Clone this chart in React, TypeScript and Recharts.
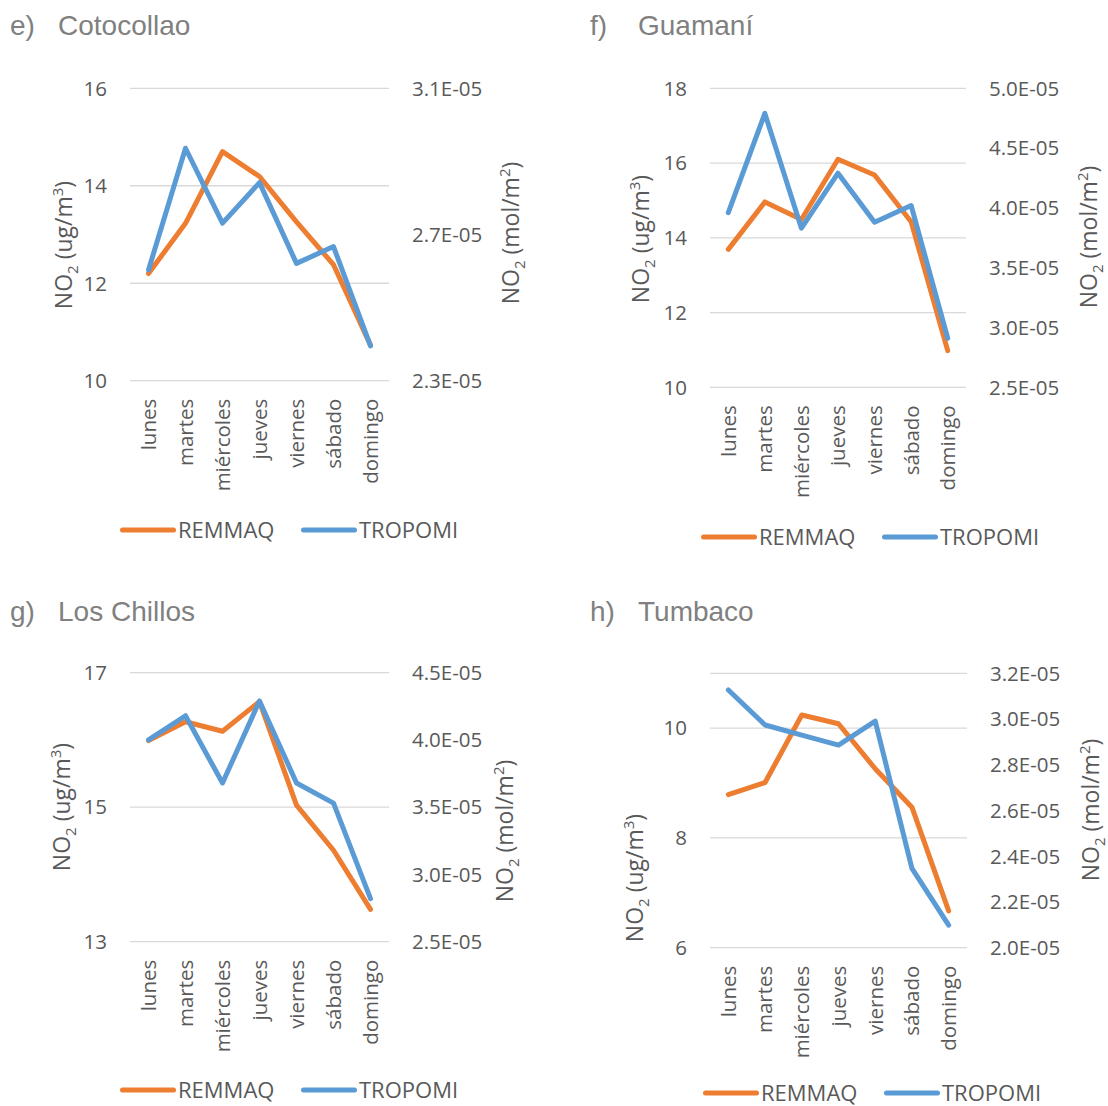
import { LineChart, Line, XAxis, YAxis, CartesianGrid } from "recharts"

const days = ["lunes", "martes", "miércoles", "jueves", "viernes", "sábado", "domingo"]

const cotocollaoRemmaq = [12.2, 13.23, 14.7, 14.19, 13.26, 12.38, 10.73]
const cotocollaoTropomi = [2.603e-5, 2.936e-5, 2.731e-5, 2.842e-5, 2.621e-5, 2.667e-5, 2.395e-5]
const guamaniRemmaq = [13.69, 14.96, 14.49, 16.1, 15.68, 14.43, 10.98]
const guamaniTropomi = [3.96e-5, 4.79e-5, 3.83e-5, 4.29e-5, 3.88e-5, 4.02e-5, 2.91e-5]
const chillosRemmaq = [15.99, 16.27, 16.13, 16.57, 15.03, 14.36, 13.48]
const chillosTropomi = [4.0e-5, 4.18e-5, 3.68e-5, 4.29e-5, 3.68e-5, 3.53e-5, 2.82e-5]
const tumbacoRemmaq = [8.79, 9.01, 10.24, 10.08, 9.26, 8.56, 6.67]
const tumbacoTropomi = [3.127e-5, 2.974e-5, 2.93e-5, 2.886e-5, 2.991e-5, 2.347e-5, 2.099e-5]

const cotocollaoLeftTicks = [10, 12, 14, 16]
const cotocollaoRightTicks = [2.3e-5, 2.7e-5, 3.1e-5]
const guamaniLeftTicks = [10, 12, 14, 16, 18]
const guamaniRightTicks = [2.5e-5, 3.0e-5, 3.5e-5, 4.0e-5, 4.5e-5, 5.0e-5]
const chillosLeftTicks = [13, 15, 17]
const chillosRightTicks = [2.5e-5, 3.0e-5, 3.5e-5, 4.0e-5, 4.5e-5]
const tumbacoLeftTicks = [6, 8, 10]
const tumbacoRightTicks = [2.0e-5, 2.2e-5, 2.4e-5, 2.6e-5, 2.8e-5, 3.0e-5, 3.2e-5]

const ORANGE = "#ED7D31"
const BLUE = "#5B9BD5"
const TEXT = "#595959"
const GRID = "#D9D9D9"
const FONT = "'Open Sans', sans-serif"
const TITLE_FONT = "'Liberation Sans', Arial, sans-serif"

const fmtE = (v: number) => (v * 1e5).toFixed(1) + "E-05"

function DayTick({ x, y, payload }: any) {
  const ty = y + 16
  return (
    <text
      x={x}
      y={ty}
      transform={`rotate(-90 ${x} ${ty})`}
      textAnchor="end"
      dy="0.36em"
      fill={TEXT}
      fontSize={20.5}
      fontFamily={FONT}
    >
      {payload.value}
    </text>
  )
}

function Panel({ box, plot, remmaq, tropomi, leftDomain, leftTicks, rightDomain, rightTicks }: any) {
  const data = days.map((d, i) => ({ day: d, remmaq: remmaq[i], tropomi: tropomi[i] }))
  const pad = (plot.r - plot.l) / 14
  const tick = { fill: TEXT, fontSize: 20.5, fontFamily: FONT }
  return (
    <div style={{ position: "absolute", left: box.x, top: box.y }}>
      <LineChart
        width={box.w}
        height={box.h}
        data={data}
        margin={{ top: plot.t - box.y, right: 0, bottom: 0, left: 0 }}
      >
        <CartesianGrid yAxisId="left" vertical={false} stroke={GRID} strokeWidth={1.3} />
        <XAxis
          dataKey="day"
          height={box.y + box.h - plot.b}
          tick={<DayTick />}
          tickLine={false}
          axisLine={false}
          tickSize={0}
          interval={0}
          padding={{ left: pad, right: pad }}
        />
        <YAxis
          yAxisId="left"
          width={plot.l - box.x}
          type="number"
          domain={leftDomain}
          ticks={leftTicks}
          tickLine={false}
          axisLine={false}
          tickSize={0}
          tickMargin={23}
          tick={tick}
        />
        <YAxis
          yAxisId="right"
          orientation="right"
          width={box.x + box.w - plot.r}
          type="number"
          domain={rightDomain}
          ticks={rightTicks}
          tickFormatter={fmtE}
          tickLine={false}
          axisLine={false}
          tickSize={0}
          tickMargin={23}
          tick={{ ...tick, textAnchor: "start" }}
        />
        <Line
          yAxisId="left"
          dataKey="remmaq"
          stroke={ORANGE}
          strokeWidth={5}
          strokeLinecap="round"
          strokeLinejoin="round"
          dot={false}
          activeDot={false}
          isAnimationActive={false}
        />
        <Line
          yAxisId="right"
          dataKey="tropomi"
          stroke={BLUE}
          strokeWidth={5}
          strokeLinecap="round"
          strokeLinejoin="round"
          dot={false}
          activeDot={false}
          isAnimationActive={false}
        />
      </LineChart>
    </div>
  )
}

function AxisTitle({ x, y, unit, sup }: { x: number; y: number; unit: string; sup: string }) {
  return (
    <text
      x={x}
      y={y}
      transform={`rotate(-90 ${x} ${y})`}
      textAnchor="middle"
      dy="0.36em"
      fill={TEXT}
      fontSize={23}
      fontFamily={FONT}
    >
      NO<tspan fontSize={15} dy={6}>2</tspan>
      <tspan dy={-6}> ({unit}</tspan>
      <tspan fontSize={15} dy={-9}>{sup}</tspan>
      <tspan dy={9}>)</tspan>
    </text>
  )
}

function Legend({ x, y }: { x: number; y: number }) {
  return (
    <g fontFamily={FONT} fontSize={22} fill={TEXT}>
      <line x1={x + 2.5} y1={y} x2={x + 53.5} y2={y} stroke={ORANGE} strokeWidth={5} strokeLinecap="round" />
      <text x={x + 58} y={y + 8}>REMMAQ</text>
      <line x1={x + 183.5} y1={y} x2={x + 234.5} y2={y} stroke={BLUE} strokeWidth={5} strokeLinecap="round" />
      <text x={x + 239} y={y + 8}>TROPOMI</text>
    </g>
  )
}

function Title({ x, y, tag, name }: { x: number; y: number; tag: string; name: string }) {
  return (
    <g fontFamily={TITLE_FONT} fontSize={28} fill="#808080">
      <text x={x} y={y}>{tag}</text>
      <text x={x + 48} y={y}>{name}</text>
    </g>
  )
}

export default function App() {
  return (
    <div style={{ position: "absolute", left: 0, top: 0, width: 1108, height: 1106, background: "#fff", overflow: "hidden" }}>
      <Panel
        box={{ x: 0, y: 0, w: 554, h: 560 }}
        plot={{ l: 130, r: 389, t: 88.3, b: 380.7 }}
        remmaq={cotocollaoRemmaq}
        tropomi={cotocollaoTropomi}
        leftDomain={[10, 16]}
        leftTicks={cotocollaoLeftTicks}
        rightDomain={[2.3e-5, 3.1e-5]}
        rightTicks={cotocollaoRightTicks}
      />
      <Panel
        box={{ x: 554, y: 0, w: 554, h: 560 }}
        plot={{ l: 710, r: 966, t: 88.3, b: 387.3 }}
        remmaq={guamaniRemmaq}
        tropomi={guamaniTropomi}
        leftDomain={[10, 18]}
        leftTicks={guamaniLeftTicks}
        rightDomain={[2.5e-5, 5.0e-5]}
        rightTicks={guamaniRightTicks}
      />
      <Panel
        box={{ x: 0, y: 560, w: 554, h: 546 }}
        plot={{ l: 130, r: 389, t: 672.7, b: 941.7 }}
        remmaq={chillosRemmaq}
        tropomi={chillosTropomi}
        leftDomain={[13, 17]}
        leftTicks={chillosLeftTicks}
        rightDomain={[2.5e-5, 4.5e-5]}
        rightTicks={chillosRightTicks}
      />
      <Panel
        box={{ x: 554, y: 560, w: 554, h: 546 }}
        plot={{ l: 710, r: 967, t: 673.3, b: 947.7 }}
        remmaq={tumbacoRemmaq}
        tropomi={tumbacoTropomi}
        leftDomain={[6, 11]}
        leftTicks={tumbacoLeftTicks}
        rightDomain={[2.0e-5, 3.2e-5]}
        rightTicks={tumbacoRightTicks}
      />
      <svg
        width={1108}
        height={1106}
        style={{ position: "absolute", left: 0, top: 0, pointerEvents: "none" }}
      >
        <Title x={10} y={35} tag="e)" name="Cotocollao" />
        <Title x={590} y={35} tag="f)" name="Guamaní" />
        <Title x={10} y={621} tag="g)" name="Los Chillos" />
        <Title x={590} y={621} tag="h)" name="Tumbaco" />

        <AxisTitle x={64} y={245} unit="ug/m" sup="3" />
        <AxisTitle x={511} y={233} unit="mol/m" sup="2" />
        <AxisTitle x={641} y={239} unit="ug/m" sup="3" />
        <AxisTitle x={1089} y={237} unit="mol/m" sup="2" />
        <AxisTitle x={62} y={807} unit="ug/m" sup="3" />
        <AxisTitle x={505} y={831} unit="mol/m" sup="2" />
        <AxisTitle x={635} y={878} unit="ug/m" sup="3" />
        <AxisTitle x={1091} y={810} unit="mol/m" sup="2" />

        <Legend x={120} y={530} />
        <Legend x={701} y={537} />
        <Legend x={120} y={1090} />
        <Legend x={703} y={1093} />
      </svg>
    </div>
  )
}
